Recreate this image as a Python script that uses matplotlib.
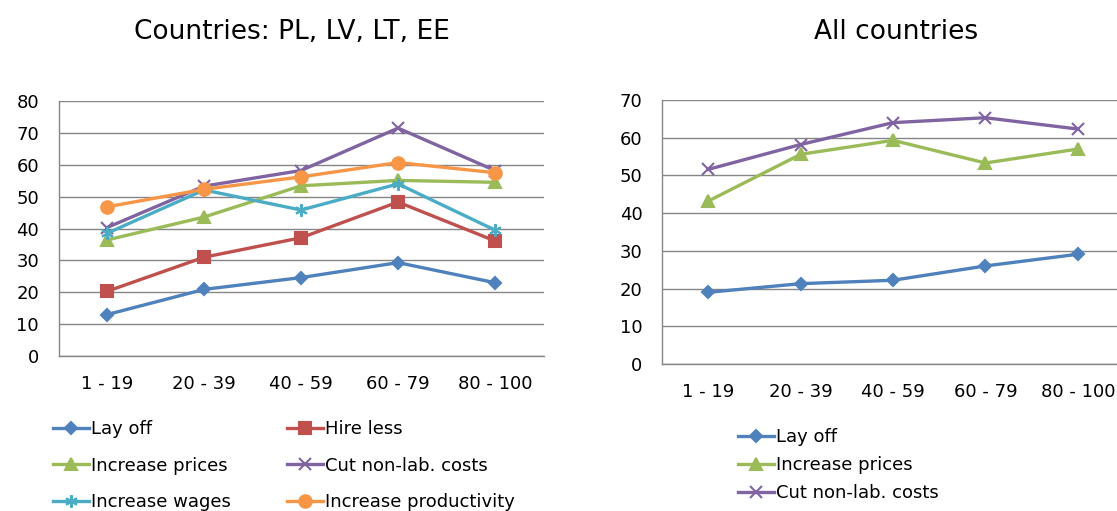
import matplotlib.pyplot as plt

# size classes (number of employees)
categories = ["1 - 19", "20 - 39", "40 - 59", "60 - 79", "80 - 100"]

# Countries: PL, LV, LT, EE
baltic_lay_off = [13.0, 20.9, 24.6, 29.3, 23.0]
baltic_hire_less = [20.3, 31.0, 37.1, 48.3, 36.1]
baltic_increase_prices = [36.4, 43.6, 53.4, 55.1, 54.5]
baltic_cut_costs = [40.3, 53.3, 58.2, 71.5, 58.2]
baltic_increase_wages = [38.5, 52.1, 45.8, 54.0, 39.5]
baltic_productivity = [46.8, 52.3, 56.2, 60.7, 57.5]

# All countries
all_lay_off = [19.0, 21.3, 22.2, 26.0, 29.1]
all_increase_prices = [43.2, 55.6, 59.3, 53.3, 57.0]
all_cut_costs = [51.6, 58.2, 64.0, 65.3, 62.3]

BLUE = "#4F81BD"
RED = "#C0504D"
GREEN = "#9BBB59"
PURPLE = "#8064A2"
TEAL = "#4BACC6"
ORANGE = "#F79646"

FS = 13
plt.rcParams["font.family"] = "DejaVu Sans"

fig = plt.figure(figsize=(11.17, 5.11), dpi=100)

ax1 = fig.add_axes([0.0524, 0.3033, 0.4342, 0.499])
ax2 = fig.add_axes([0.5927, 0.2877, 0.4136, 0.5166])

x = list(range(len(categories)))

def style_axis(ax, ymax):
    ax.set_xlim(-0.5, len(categories) - 0.5)
    ax.set_ylim(0, ymax)
    ax.set_yticks(range(0, ymax + 1, 10))
    ax.set_xticks(x)
    ax.set_xticklabels(categories)
    ax.tick_params(axis="both", length=0, labelsize=FS, colors="black")
    ax.tick_params(axis="y", pad=14)
    ax.tick_params(axis="x", pad=14)
    ax.grid(axis="y", color="#868686", linewidth=1.0)
    ax.set_axisbelow(True)
    for s in ["top", "right"]:
        ax.spines[s].set_visible(False)
    for s in ["left", "bottom"]:
        ax.spines[s].set_color("#868686")
        ax.spines[s].set_linewidth(1.0)

def series(ax, y, color, marker, ms=7, label=None):
    return ax.plot(x, y, color=color, marker=marker, markersize=ms, linewidth=2.4,
                   markeredgecolor=color, markerfacecolor=color, markeredgewidth=1.5,
                   label=label, clip_on=False)[0]

star = (6, 2, 0)

h_lay = series(ax1, baltic_lay_off, BLUE, "D", 6.5, "Lay off")
h_hire = series(ax1, baltic_hire_less, RED, "s", 8, "Hire less")
h_price = series(ax1, baltic_increase_prices, GREEN, "^", 8, "Increase prices")
h_cut = series(ax1, baltic_cut_costs, PURPLE, "x", 8, "Cut non-lab. costs")
h_wage = series(ax1, baltic_increase_wages, TEAL, star, 9, "Increase wages")
h_prod = series(ax1, baltic_productivity, ORANGE, "o", 9, "Increase productivity")
style_axis(ax1, 80)

g_lay = series(ax2, all_lay_off, BLUE, "D", 6.5, "Lay off")
g_price = series(ax2, all_increase_prices, GREEN, "^", 8, "Increase prices")
g_cut = series(ax2, all_cut_costs, PURPLE, "x", 8, "Cut non-lab. costs")
style_axis(ax2, 70)

fig.text(292 / 1117, 1 - 32 / 511, "Countries: PL, LV, LT, EE", ha="center", va="center", fontsize=19)
fig.text(896 / 1117, 1 - 32 / 511, "All countries", ha="center", va="center", fontsize=19)

leg_kw = dict(frameon=False, fontsize=FS, handlelength=2.0, handletextpad=0.1,
              labelspacing=1.03, borderpad=0, borderaxespad=0, loc="upper left")
leg1 = fig.legend([h_lay, h_price, h_wage], ["Lay off", "Increase prices", "Increase wages"],
                  bbox_to_anchor=(53 / 1117, 1 - 420 / 511), **leg_kw)
leg2 = fig.legend([h_hire, h_cut, h_prod], ["Hire less", "Cut non-lab. costs", "Increase productivity"],
                  bbox_to_anchor=(287 / 1117, 1 - 420 / 511), **leg_kw)
kw3 = dict(leg_kw)
kw3["labelspacing"] = 0.55
leg3 = fig.legend([g_lay, g_price, g_cut], ["Lay off", "Increase prices", "Cut non-lab. costs"],
                  bbox_to_anchor=(738 / 1117, 1 - 428 / 511), **kw3)

fig.savefig("out.png", dpi=100)
